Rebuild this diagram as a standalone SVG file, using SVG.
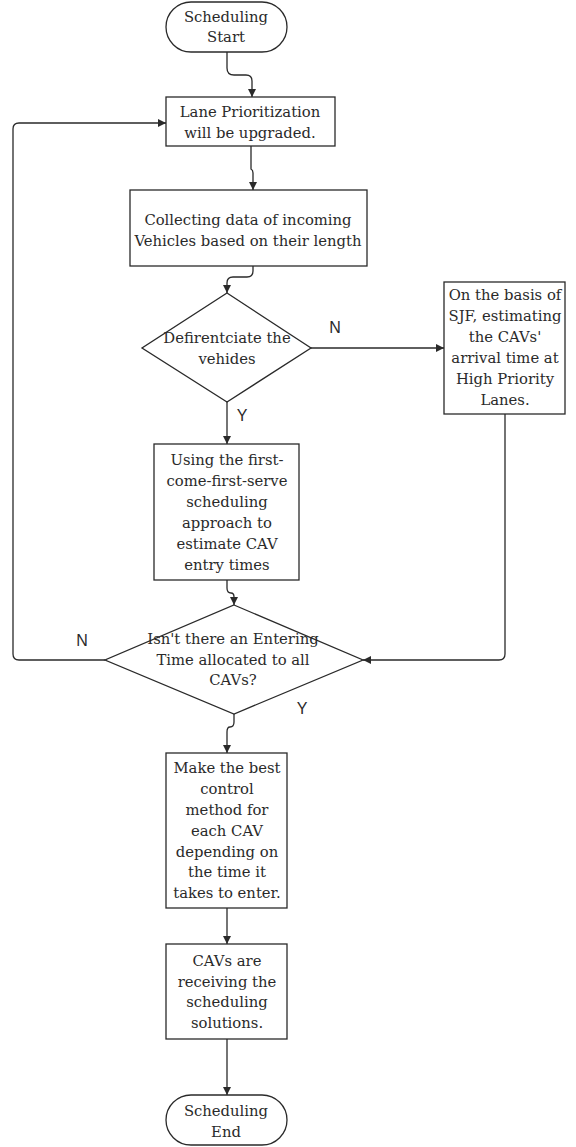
<svg xmlns="http://www.w3.org/2000/svg" width="576" height="1147" viewBox="0 0 576 1147">
<style>
.shape{fill:#fff;stroke:#2a2a2a;stroke-width:1.3}
.t{font-family:"DejaVu Serif","Liberation Serif",serif;font-size:14.8px;fill:#2a2a2a;text-anchor:middle}
.lbl{font-family:"Liberation Sans",Arial,sans-serif;font-size:16px;fill:#2a2a2a;text-anchor:middle}
.c{fill:none;stroke:#2a2a2a;stroke-width:1.3}
</style>
<defs>
<marker id="ah" viewBox="0 0 10 10" refX="10" refY="5" markerWidth="8" markerHeight="8" markerUnits="userSpaceOnUse" orient="auto">
<path d="M0,0 L10,5 L0,10 z" fill="#2a2a2a"/>
</marker>
</defs>
<g id="connectors">
<path class="c" d="M227 52 V68 Q227 75 234 75 H246 Q252 75 252 81 V97" marker-end="url(#ah)"/>
<path class="c" d="M251 146 V169 Q253 170 253 173 V190" marker-end="url(#ah)"/>
<path class="c" d="M253 266 V271 Q253 277 247 277 H233 Q227 277 227 283 V293" marker-end="url(#ah)"/>
<path class="c" d="M311 348 H444" marker-end="url(#ah)"/>
<path class="c" d="M227 402 V444" marker-end="url(#ah)"/>
<path class="c" d="M227 580 V588 Q227 593 231 593 Q234 593 234 597 V605" marker-end="url(#ah)"/>
<path class="c" d="M505 414 V654 Q505 660 499 660 H363" marker-end="url(#ah)"/>
<path class="c" d="M105 660 H19 Q13 660 13 654 V129 Q13 123 19 123 H166" marker-end="url(#ah)"/>
<path class="c" d="M234 714 V722 Q234 727 230 727 Q227 727 227 732 V753" marker-end="url(#ah)"/>
<path class="c" d="M227 908 V944" marker-end="url(#ah)"/>
<path class="c" d="M227 1039 V1095" marker-end="url(#ah)"/>
<text class="lbl" x="335" y="333">N</text>
<text class="lbl" x="242" y="421">Y</text>
<text class="lbl" x="82" y="646">N</text>
<text class="lbl" x="302" y="714">Y</text>
</g>
<g id="start">
<rect class="shape" x="166" y="2" width="121" height="50" rx="25"/>
<text class="t" x="226" y="22">Scheduling</text>
<text class="t" x="226" y="42">Start</text>
</g>
<g id="lane">
<rect class="shape" x="166" y="97" width="169" height="49"/>
<text class="t" x="250" y="117">Lane Prioritization</text>
<text class="t" x="250" y="138">will be upgraded.</text>
</g>
<g id="collect">
<rect class="shape" x="130" y="190" width="237" height="76"/>
<text class="t" x="248" y="225">Collecting data of incoming</text>
<text class="t" x="248" y="246">Vehicles based on their length</text>
</g>
<g id="diff">
<polygon class="shape" points="227,293 311,348 227,402 142,348"/>
<text class="t" x="227" y="343">Defirentciate the</text>
<text class="t" x="227" y="364">vehides</text>
</g>
<g id="sjf">
<rect class="shape" x="444" y="282" width="121" height="132"/>
<text class="t" x="505" y="300">On the basis of</text>
<text class="t" x="505" y="321">SJF, estimating</text>
<text class="t" x="505" y="342">the CAVs'</text>
<text class="t" x="505" y="363">arrival time at</text>
<text class="t" x="505" y="384">High Priority</text>
<text class="t" x="505" y="405">Lanes.</text>
</g>
<g id="fcfs">
<rect class="shape" x="154" y="444" width="145" height="136"/>
<text class="t" x="227" y="465">Using the first-</text>
<text class="t" x="227" y="486">come-first-serve</text>
<text class="t" x="227" y="507">scheduling</text>
<text class="t" x="227" y="528">approach to</text>
<text class="t" x="227" y="549">estimate CAV</text>
<text class="t" x="227" y="570">entry times</text>
</g>
<g id="allocated">
<polygon class="shape" points="234,605 363,660 234,714 105,660"/>
<text class="t" x="233" y="644">Isn't there an Entering</text>
<text class="t" x="233" y="665">Time allocated to all</text>
<text class="t" x="233" y="685">CAVs?</text>
</g>
<g id="control">
<rect class="shape" x="166" y="753" width="121" height="155"/>
<text class="t" x="227" y="773">Make the best</text>
<text class="t" x="227" y="794">control</text>
<text class="t" x="227" y="815">method for</text>
<text class="t" x="227" y="836">each CAV</text>
<text class="t" x="227" y="857">depending on</text>
<text class="t" x="227" y="877">the time it</text>
<text class="t" x="227" y="898">takes to enter.</text>
</g>
<g id="receive">
<rect class="shape" x="166" y="944" width="121" height="95"/>
<text class="t" x="227" y="966">CAVs are</text>
<text class="t" x="227" y="987">receiving the</text>
<text class="t" x="227" y="1007">scheduling</text>
<text class="t" x="227" y="1028">solutions.</text>
</g>
<g id="end">
<rect class="shape" x="166" y="1095" width="121" height="50" rx="25"/>
<text class="t" x="226" y="1116">Scheduling</text>
<text class="t" x="226" y="1137">End</text>
</g>
</svg>
